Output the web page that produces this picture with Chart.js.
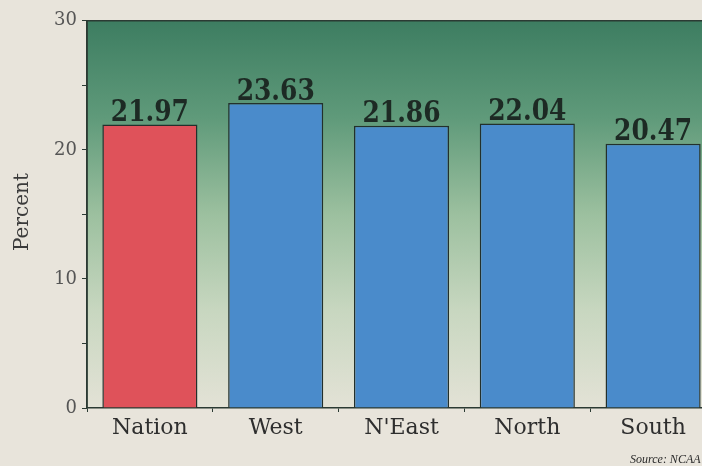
<!DOCTYPE html>
<html>
<head>
<meta charset="utf-8">
<script src="https://cdn.jsdelivr.net/npm/chart.js@4.4.1/dist/chart.umd.min.js"></script>
<style>
  html, body { margin: 0; padding: 0; overflow: hidden; background: #e8e4db; }
  #wrap { position: relative; width: 740px; height: 466px; }
  canvas { display: block; margin-top: 5px; }
</style>
</head>
<body>
<div id="wrap"><canvas id="c" width="740" height="461"></canvas></div>
<script>
const categories = ["Nation", "West", "N'East", "North", "South"];
const percentValues = [21.97, 23.63, 21.86, 22.04, 20.47];
const valueLabels = ["21.97", "23.63", "21.86", "22.04", "20.47"];
const barColors = ["#df525a", "#4a8bcb", "#4a8bcb", "#4a8bcb", "#4a8bcb"];
const yMin = 0, yMax = 30, yStep = 5;
const axisTitle = "Percent";
const sourceText = "Source: NCAA";

const bgPlugin = {
  id: 'bg',
  beforeDraw(chart) {
    const ctx = chart.ctx;
    ctx.save();
    ctx.fillStyle = '#e8e4db';
    ctx.fillRect(0, 0, chart.width, chart.height);
    const a = chart.chartArea;
    const g = ctx.createLinearGradient(0, a.top, 0, a.bottom);
    g.addColorStop(0, '#3d7d61');
    g.addColorStop(0.25, '#5f9a7a');
    g.addColorStop(0.5, '#9cc09f');
    g.addColorStop(0.75, '#c8d7c0');
    g.addColorStop(1, '#e3e2d6');
    ctx.fillStyle = g;
    ctx.fillRect(a.left, a.top, a.right - a.left, a.bottom - a.top);
    ctx.strokeStyle = '#2b3a33';
    ctx.lineWidth = 1.5;
    ctx.beginPath();
    ctx.moveTo(a.left, a.bottom);
    ctx.lineTo(a.left, a.top);
    ctx.lineTo(a.right, a.top);
    ctx.stroke();
    ctx.restore();
  },
  afterDraw(chart) {
    const ctx = chart.ctx;
    const meta = chart.getDatasetMeta(0);
    ctx.save();
    ctx.font = 'bold 29px "DejaVu Serif", serif';
    ctx.fillStyle = '#1d2a24';
    ctx.textAlign = 'center';
    ctx.textBaseline = 'alphabetic';
    meta.data.forEach((bar, i) => {
      ctx.save();
      ctx.translate(bar.x, bar.y - 3.5);
      ctx.scale(0.86, 1);
      ctx.fillText(valueLabels[i], 0, 0);
      ctx.restore();
    });
    // axis title
    ctx.font = '20px "DejaVu Serif", serif';
    ctx.fillStyle = '#3a3a3a';
    ctx.translate(23, 207);
    ctx.rotate(-Math.PI / 2);
    ctx.textAlign = 'center';
    ctx.textBaseline = 'middle';
    ctx.fillText(axisTitle, 0, 0);
    ctx.restore();
    ctx.save();
    ctx.font = 'italic 12px "Liberation Serif", serif';
    ctx.fillStyle = '#2a2a2a';
    ctx.textAlign = 'left';
    ctx.fillText(sourceText, 630, 458);
    ctx.restore();
  }
};

new Chart(document.getElementById('c'), {
  type: 'bar',
  data: {
    labels: categories,
    datasets: [{
      data: percentValues,
      backgroundColor: barColors,
      borderColor: '#23302c',
      borderWidth: 1.5,
      borderSkipped: 'bottom',
      categoryPercentage: 1.0,
      barPercentage: 0.756
    }]
  },
  options: {
    responsive: false,
    animation: false,
    layout: { padding: { top: 9, right: 24, left: 0, bottom: 0 } },
    plugins: { legend: { display: false }, tooltip: { enabled: false } },
    scales: {
      x: {
        afterFit(s) { s.height = 58; },
        grid: { display: true, drawOnChartArea: false, offset: true, color: '#2b3a33', tickLength: 4, lineWidth: 1 },
        border: { display: true, color: '#2b3a33', width: 1.5 },
        ticks: { color: '#2e2e2e', padding: 3, font: { family: '"DejaVu Serif", serif', size: 22 } }
      },
      y: {
        min: yMin, max: yMax,
        afterFit(s) { s.width = 87; },
        grid: { display: true, drawOnChartArea: false, color: '#2b3a33', tickLength: 5, lineWidth: 1 },
        border: { display: true, color: '#2b3a33', width: 1.5 },
        ticks: {
          stepSize: yStep,
          color: '#555',
          padding: 5,
          font: { family: '"DejaVu Serif", serif', size: 18 },
          callback: (v) => (v % 10 === 0 ? v : '')
        }
      }
    }
  },
  plugins: [bgPlugin]
});
</script>
</body>
</html>
